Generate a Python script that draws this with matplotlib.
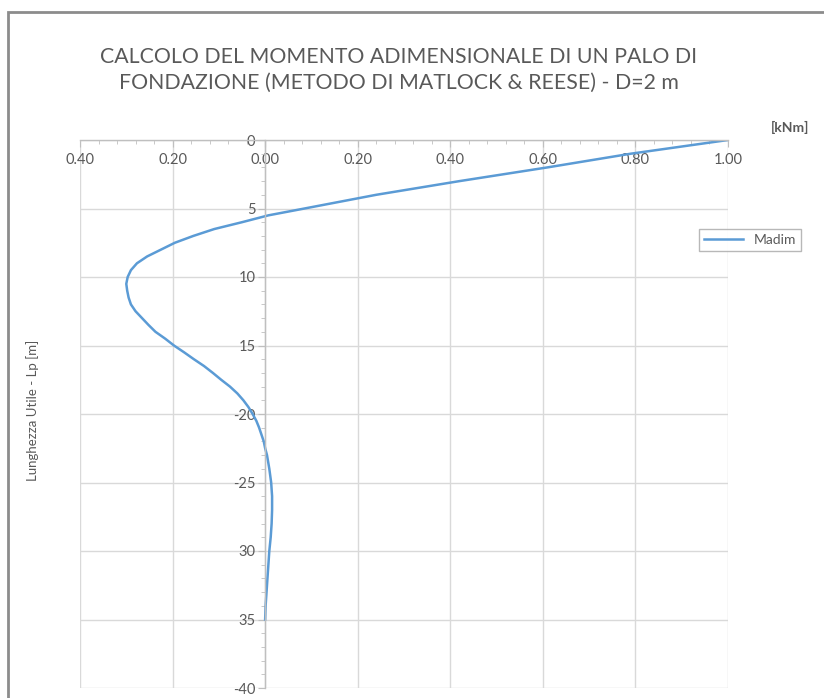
import numpy as np
import matplotlib
matplotlib.use("Agg")
import matplotlib.pyplot as plt
from matplotlib.patches import Rectangle
from matplotlib.ticker import MultipleLocator, FixedLocator

# depth along the pile [m] and dimensionless moment
depth = [0, 1, 2, 3, 4, 5, 5.5, 6, 6.5, 7, 7.5, 8, 8.5, 9, 9.5, 10, 10.5,
         11, 11.5, 12, 12.5, 13, 13.5, 14, 14.5, 15, 15.5, 16, 16.5, 17,
         17.5, 18, 18.5, 19, 19.5, 20, 20.5, 21, 21.5, 22, 22.5, 23, 24,
         25, 26, 27, 28, 29, 30, 31, 32, 33, 34, 35]
madim = [1.00, 0.79, 0.61, 0.42, 0.24, 0.085, 0.007, -0.05, -0.11, -0.155,
         -0.195, -0.225, -0.255, -0.277, -0.290, -0.297, -0.300, -0.298,
         -0.295, -0.290, -0.280, -0.266, -0.252, -0.237, -0.216, -0.197,
         -0.175, -0.154, -0.132, -0.113, -0.095, -0.076, -0.060, -0.047,
         -0.036, -0.027, -0.019, -0.013, -0.008, -0.003, 0.000, 0.004,
         0.009, 0.013, 0.015, 0.015, 0.014, 0.012, 0.009, 0.007, 0.005,
         0.003, 0.001, 0.0]

xticks = [-0.4, -0.2, 0.0, 0.2, 0.4, 0.6, 0.8, 1.0]
xlabels = ["0.40", "0.20", "0.00", "0.20", "0.40", "0.60", "0.80", "1.00"]
yticks = [0, -5, -10, -15, -20, -25, -30, -35, -40]
ylabels = ["0", "5", "10", "15", "-20", "-25", "30", "35", "-40"]

title = "CALCOLO DEL MOMENTO ADIMENSIONALE DI UN PALO DI\nFONDAZIONE (METODO DI MATLOCK & REESE) - D=2 m"

plt.rcParams['font.family'] = ['Lato', 'DejaVu Sans']
grey = "#595959"

fig = plt.figure(figsize=(8.24, 6.98), dpi=100)
ax = fig.add_axes([80/824, 1 - 688/698, 648/824, 548/698])

ax.plot(madim, [-d for d in depth], color="#5b9bd5", lw=1.8, label="Madim",
        solid_joinstyle="round")

ax.set_xlim(-0.4, 1.0)
ax.set_ylim(-40, 0)

ax.xaxis.set_major_locator(FixedLocator(xticks))
ax.set_xticklabels(xlabels)
ax.xaxis.set_minor_locator(MultipleLocator(0.04))
ax.yaxis.set_major_locator(FixedLocator(yticks))
ax.set_yticklabels(ylabels)
ax.yaxis.set_minor_locator(MultipleLocator(1))

ax.grid(True, which="major", color="#d9d9d9", lw=1.0)
ax.set_axisbelow(True)

for s in ["top", "right"]:
    ax.spines[s].set_visible(False)
ax.spines["bottom"].set_position(("data", 0))
ax.spines["left"].set_position(("data", 0))
for s in ["bottom", "left"]:
    ax.spines[s].set_color("#bfbfbf")
    ax.spines[s].set_linewidth(1.0)

ax.tick_params(which="major", length=5, color="#bfbfbf", labelcolor=grey,
               labelsize=10.5)
ax.tick_params(which="minor", length=3, color="#bfbfbf")
ax.tick_params(axis="x", pad=4)
ax.tick_params(axis="y", pad=2)

fig.text(399/824, 1 - 70/698, title, ha="center", va="center",
         fontsize=15.3, color=grey, linespacing=1.4)
fig.text(33/824, 1 - 410/698, "Lunghezza Utile - Lp [m]", rotation=90,
         ha="center", va="center", fontsize=9.5, color=grey)
fig.text(790/824, 1 - 127/698, "[kNm]", ha="center", va="center",
         fontsize=10, color=grey, fontweight="bold")

leg = ax.legend(loc="upper left", bbox_to_anchor=(692/824, 1 - 222/698),
                bbox_transform=fig.transFigure, frameon=True, fancybox=False,
                fontsize=10, handlelength=2.8, borderpad=0.35,
                labelcolor=grey)
leg.get_frame().set_edgecolor("#a6a6a6")
leg.get_frame().set_linewidth(1.0)

fig.patches.append(Rectangle((8/824, -0.05), 1.0, 1 - 12/698 + 0.05,
                             transform=fig.transFigure, fill=False,
                             edgecolor="#8c8c8c", lw=2.0))

fig.savefig("out.png", dpi=100)
